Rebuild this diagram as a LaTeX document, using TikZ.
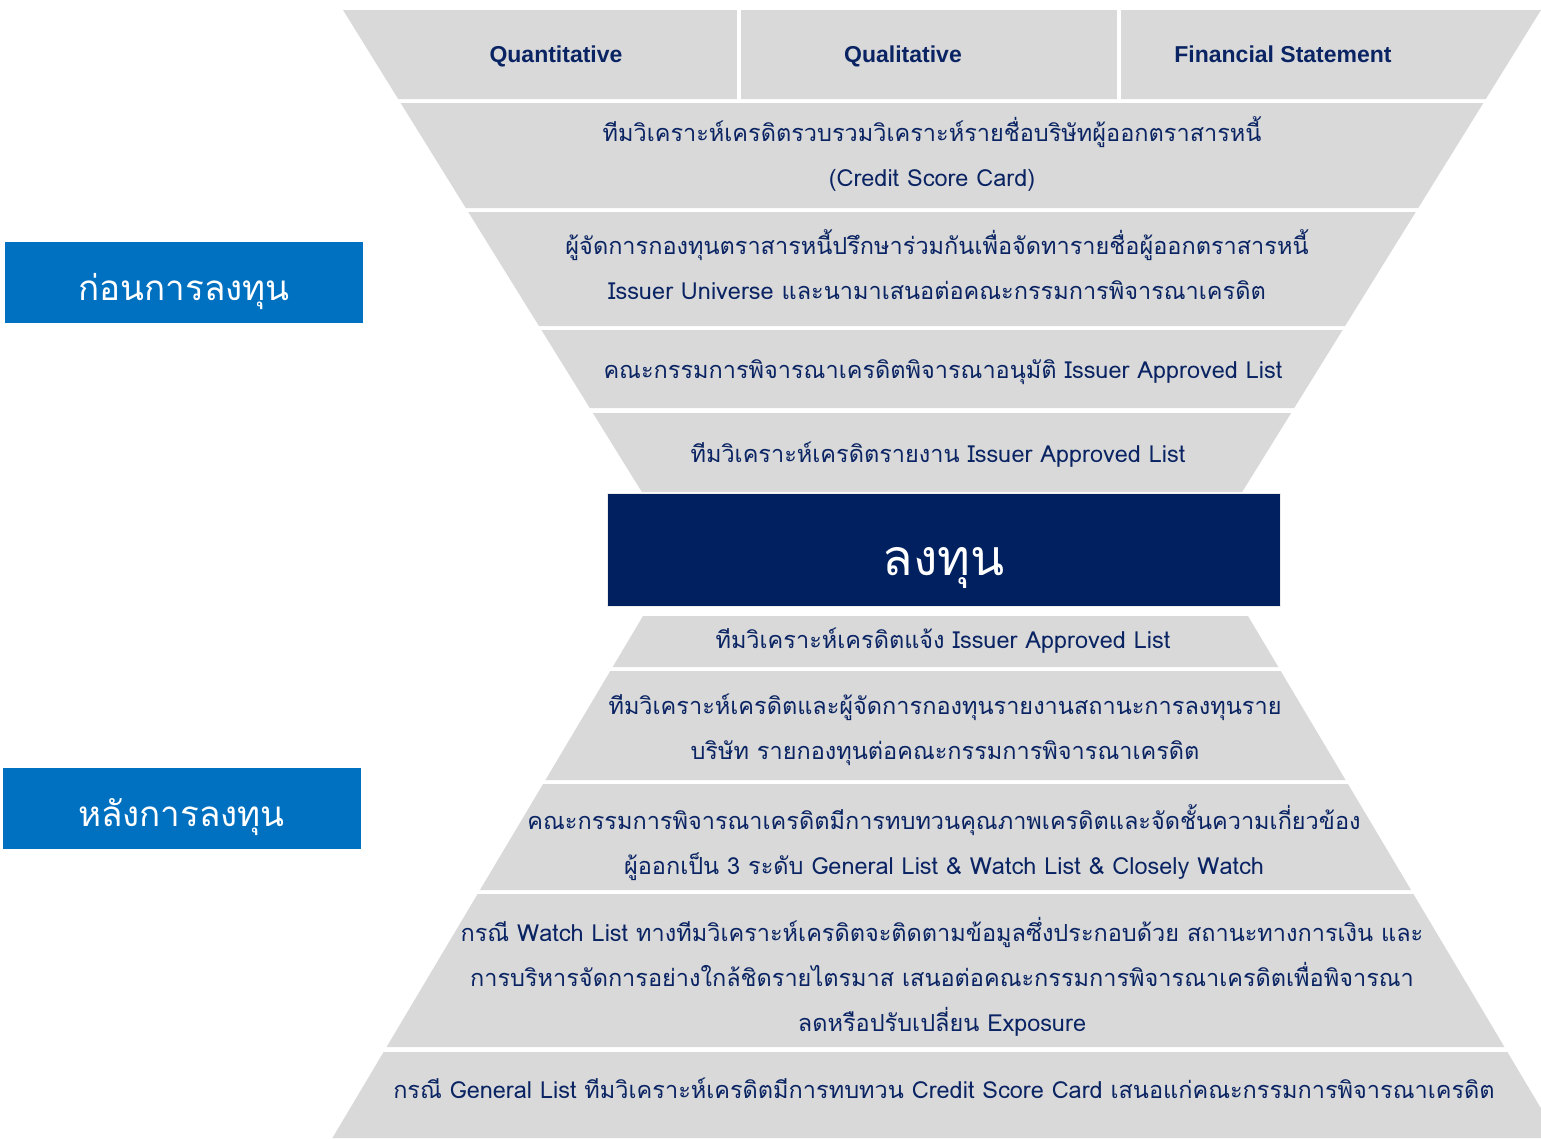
\documentclass[tikz,border=0pt]{standalone}
\usepackage{fontspec}
\setmainfont{Loma}[Script=Thai]
\newfontfamily\headfont{Liberation Sans}
\usepackage{tikz}
\usetikzlibrary{positioning}
\usepackage{xcolor}
\definecolor{bandgray}{HTML}{D9D9D9}
\definecolor{textnavy}{HTML}{0A2463}
\definecolor{investnavy}{HTML}{00205F}
\definecolor{phaseblue}{HTML}{0070C0}

\tikzset{
  band/.style={fill=bandgray},
  bandtext/.style={text=textnavy,align=center,inner sep=0pt,
    font=\fontsize{23.5}{45}\selectfont},
  head/.style={text=textnavy,inner sep=0pt,anchor=base,
    font=\headfont\bfseries\fontsize{23}{26}\selectfont},
  phase/.style={fill=phaseblue,text=white,inner sep=0pt,
    minimum width=358pt,minimum height=81pt,text height=35pt,text depth=0pt,
    font=\fontsize{35}{40}\selectfont},
}

\begin{document}
\begin{tikzpicture}[x=1pt,y=-1pt]
      \useasboundingbox (0,0) rectangle (1541,1138);
      \clip (0,0) rectangle (1541,1138);
      \foreach \ya/\yb in {10/99,103/208,212/326,330/408,413/492}{
        \pgfmathsetmacro{\wa}{599-0.62*(\ya-10)}
        \pgfmathsetmacro{\wb}{599-0.62*(\yb-10)}
        \fill[band] (942-\wa,\ya) -- (942+\wa,\ya) -- (942+\wb,\yb) -- (942-\wb,\yb) -- cycle;
      }
      \foreach \ya/\yb in {616/667,671/780,784/890,894/1047,1052/1138}{
        \pgfmathsetmacro{\wa}{302.5+0.595*(\ya-616)}
        \pgfmathsetmacro{\wb}{302.5+0.595*(\yb-616)}
        \fill[band] (945.5-\wa,\ya) -- (945.5+\wa,\ya) -- (945.5+\wb,\yb) -- (945.5-\wb,\yb) -- cycle;
      }
      \fill[white] (737,8) rectangle (741,103);
      \fill[white] (1117,8) rectangle (1121,103);

      \node[head] (quantitative) at (556,62.5) {Quantitative};
      \node[head] (qualitative) at (903,62.5) {Qualitative};
      \node[head] (financial statement) at (1283,62.5) {Financial Statement};

      \node[bandtext] (score card) at (932,154.5)
        {ทีมวิเคราะห์เครดิตรวบรวมวิเคราะห์รายชื่อบริษัทผู้ออกตราสารหนี้\\(Credit Score Card)};
      \node[bandtext] (issuer universe) at (937,265)
        {ผู้จัดการกองทุนตราสารหนี้ปรึกษาร่วมกันเพื่อจัดทารายชื่อผู้ออกตราสารหนี้\\Issuer Universe และนามาเสนอต่อคณะกรรมการพิจารณาเครดิต};
      \node[bandtext] (approve list) at (943,372)
        {คณะกรรมการพิจารณาเครดิตพิจารณาอนุมัติ Issuer Approved List};
      \node[bandtext] (report list) at (938,455)
        {ทีมวิเคราะห์เครดิตรายงาน Issuer Approved List};

      \node[fill=investnavy,draw=white!85!gray,line width=1pt,text=white,
        minimum width=673pt,minimum height=113pt,text height=51pt,text depth=0pt,
        font=\fontsize{50}{56}\selectfont] (invest) at (943.5,549.5) {ลงทุน};

      \node[bandtext] (notify list) at (943,641)
        {ทีมวิเคราะห์เครดิตแจ้ง Issuer Approved List};
      \node[bandtext] (status report) at (945,729.5)
        {ทีมวิเคราะห์เครดิตและผู้จัดการกองทุนรายงานสถานะการลงทุนราย\\บริษัท รายกองทุนต่อคณะกรรมการพิจารณาเครดิต};
      \node[bandtext] (quality review) at (944,842.5)
        {คณะกรรมการพิจารณาเครดิตมีการทบทวนคุณภาพเครดิตและจัดชั้นความเกี่ยวข้อง\\ผู้ออกเป็น 3 ระดับ General List \& Watch List \& Closely Watch};
      \node[bandtext] (watch list) at (942,976.5)
        {กรณี Watch List ทางทีมวิเคราะห์เครดิตจะติดตามข้อมูลซึ่งประกอบด้วย สถานะทางการเงิน และ\\การบริหารจัดการอย่างใกล้ชิดรายไตรมาส เสนอต่อคณะกรรมการพิจารณาเครดิตเพื่อพิจารณา\\ลดหรือปรับเปลี่ยน Exposure};
      \node[bandtext] (general list) at (944,1088)
        {กรณี General List ทีมวิเคราะห์เครดิตมีการทบทวน Credit Score Card เสนอแก่คณะกรรมการพิจารณาเครดิต};

      \node[phase] (before invest) at (184,282.5) {ก่อนการลงทุน};
      \node[phase] (after invest) at (181.5,808.5) {หลังการลงทุน};
    \end{tikzpicture}
\end{document}
